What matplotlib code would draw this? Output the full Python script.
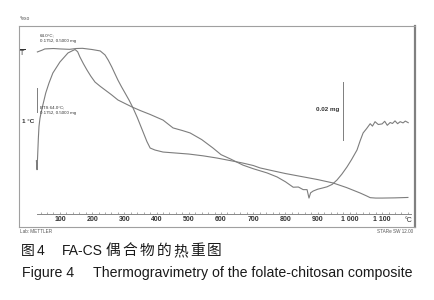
import matplotlib.pyplot as plt
import numpy as np

plt.rcParams['font.family'] = ['Liberation Sans', 'Noto Sans CJK SC', 'DejaVu Sans']

# curve 1 (mass signal), temperature in degC, signal in arbitrary units
tg_temp = [30, 45, 53, 80, 100, 130, 150, 170, 200, 225, 240, 250, 261, 270, 280,
           291, 302, 315, 327, 340, 355, 370, 380, 395, 420, 460, 500, 545, 588,
           630, 668, 700, 721, 760, 800, 850, 900, 948, 990, 1032, 1050, 1063, 1080,
           1100, 1140, 1180]
tg_signal = [87.1, 88.0, 88.6, 88.8, 88.6, 88.4, 88.8, 88.9, 88.3, 87.6, 85.6, 83.0, 79.6,
             76.5, 73.1, 69.8, 66.7, 63.0, 59.2, 54.5, 48.5, 42.5, 39.3, 38.3, 37.3,
             36.8, 36.3, 35.4, 34.3, 33.0, 31.8, 30.6, 29.4, 28.0, 26.6, 25.1, 23.6, 21.9,
             19.6, 16.9, 15.6, 14.6, 14.4, 14.4, 14.5, 14.7]

# curve 2 (heat flow signal)
dta_temp = [27, 29, 31, 33, 35, 38, 41, 47, 56, 66, 78, 100, 125, 140, 147, 155, 162,
            173, 184, 196, 209, 225, 240, 260, 280, 300, 324, 350, 380, 420, 451, 480,
            504, 540, 575, 600, 630, 668, 700, 743, 774, 800, 824, 840, 855, 867, 873,
            878, 886, 900, 915, 929, 945, 960, 975, 991, 1005, 1022, 1032, 1041, 1052,
            1063, 1070, 1078, 1088, 1100, 1108, 1116, 1125, 1132, 1140, 1148, 1156,
            1165, 1172, 1181]
dta_signal = [33.0, 28.5, 36.0, 44.0, 50.0, 54.0, 56.5, 60.7, 66.7, 71.6, 76.6, 82.1,
              86.6, 87.8, 88.3, 87.2, 84.6, 81.2, 78.1, 75.0, 72.1, 70.0, 68.2, 65.8,
              63.2, 61.6, 59.7, 57.9, 56.0, 53.2, 49.3, 48.0, 46.8, 43.5, 39.3, 36.0,
              33.8, 30.8, 29.0, 26.9, 24.9, 22.5, 19.8, 19.9, 18.6, 18.6, 14.4, 17.0,
              17.9, 18.8, 19.4, 20.0, 21.2, 23.4, 26.3, 29.9, 33.5, 38.3, 43.0, 46.8,
              49.0, 51.4, 50.2, 52.4, 51.0, 51.3, 52.6, 50.6, 52.0, 51.5, 52.8, 51.4,
              52.4, 51.8, 52.7, 51.9]

tick_values = [100, 200, 300, 400, 500, 600, 700, 800, 900, 1000, 1100]
tick_labels = ['100', '200', '300', '400', '500', '600', '700', '800', '900', '1 000', '1 100']

caption_cn = '偶合物的热重图'
caption_en = 'Thermogravimetry of the folate-chitosan composite'

line_col = '#7d7d7d'
text_col = '#333333'
cap_col = '#1a1a1a'
cjk = ['Noto Sans CJK SC', 'DejaVu Sans']

fig = plt.figure(figsize=(4.34, 3.0), dpi=100)
ax = fig.add_axes([0.0438, 0.2433, 0.9124, 0.67])
ax.set_xlim(-27, 1202)
ax.set_ylim(0, 100)
ax.set_xticks([])
ax.set_yticks([])
for s in ax.spines.values():
    s.set_color('#a0a0a0')
    s.set_linewidth(0.8)
ax.spines['right'].set_color('#808080')
ax.spines['right'].set_linewidth(1.6)

ax.plot(tg_temp, tg_signal, color=line_col, lw=0.8)
ax.plot(dta_temp, dta_signal, color=line_col, lw=0.8)

# temperature axis drawn inside the frame
sec = ax.secondary_xaxis(0.065)
sec.spines['bottom'].set_bounds(30, 1190)
sec.spines['bottom'].set_color('#888888')
sec.spines['bottom'].set_linewidth(0.7)
sec.set_xticks(tick_values)
sec.set_xticklabels(tick_labels, fontweight='bold')
sec.set_xticks(np.arange(40, 1200, 20), minor=True)
sec.tick_params(which='both', direction='in', length=1.5, width=0.5, color='#888888',
                labelsize=5, pad=1.5, labelcolor=text_col)
ax.text(1182, 3.0, '\u00b0C', fontsize=5, color=text_col, ha='center', va='center')

# scale bars
ax.plot([28.6, 28.6], [57.2, 69.2], color=line_col, lw=0.7)
ax.text(20, 52.5, '1 \u00b0C', fontsize=4.5, color=text_col, ha='right', va='center',
        fontweight='bold')
ax.plot([979, 979], [43.3, 72.1], color=line_col, lw=0.7)
ax.text(968, 58.3, '0.02 mg', fontsize=4.5, color=text_col, ha='right', va='center',
        fontweight='bold')

ax.text(-18, 86.6, r'$\overline{\mathrm{T}}$', fontsize=5, color=text_col,
        ha='center', va='center')

ax.text(37, 95.5, '64.0\u00b0C;', fontsize=3.2, color=text_col, va='center')
ax.text(37, 92.5, '0.1752, 0.5000 mg', fontsize=3.2, color=text_col, va='center')
ax.text(37, 59.5, 'BTS 64.0\u00b0C;', fontsize=3.2, color=text_col, va='center')
ax.text(37, 56.5, '0.1752, 0.5000 mg', fontsize=3.2, color=text_col, va='center')

fig.text(0.046, 0.935, '^exo', fontsize=3.5, color='#555555')
fig.text(0.046, 0.229, 'Lab: METTLER', fontsize=3.3, color='#555555', va='center')
fig.text(0.952, 0.229, 'STARe SW 12.00', fontsize=3.3, color='#555555', va='center',
         ha='right')

# captions
y_cn = 1 - 251 / 300
fig.text(21 / 434, y_cn, '图', fontsize=10, color=cap_col, va='center', family=cjk)
fig.text(37 / 434, y_cn, '4', fontsize=10, color=cap_col, va='center')
fig.text(62 / 434, y_cn, 'FA-CS', fontsize=10, color=cap_col, va='center')
for i, ch in enumerate(caption_cn):
    fig.text((106 + i * 16.8) / 434, y_cn, ch, fontsize=10.6, color=cap_col, va='center',
             family=cjk)

y_en = 1 - 273 / 300
fig.text(22 / 434, y_en, 'Figure 4', fontsize=10.2, color=cap_col, va='center')
fig.text(93 / 434, y_en, caption_en, fontsize=10.2, color=cap_col, va='center')

fig.savefig('out.png', dpi=100)
